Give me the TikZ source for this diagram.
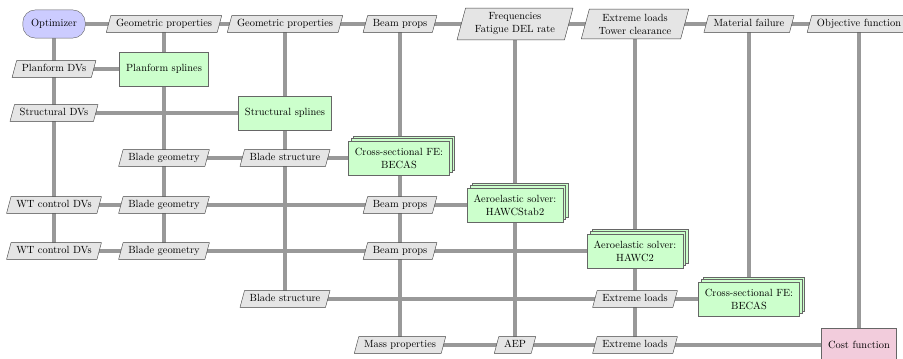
\documentclass[tikz,border=0pt]{standalone}
\usetikzlibrary{shapes.geometric,shadows,backgrounds}
\definecolor{costpink}{RGB}{242,204,220}
\definecolor{optblue}{RGB}{204,204,255}
\definecolor{funcgreen}{RGB}{204,255,204}
\begin{document}
\begin{tikzpicture}[x=0.96pt,y=-0.96pt,
  every node/.style={font=\fontsize{10}{12.5}\selectfont, text=black},
  datbase/.style={trapezium, trapezium left angle=75, trapezium right angle=105,
    draw=black!75, line width=0.4pt, fill=black!10, inner xsep=5pt, align=center},
  dat/.style={datbase, inner ysep=3.6pt, text height=7pt, text depth=2pt},
  dattwo/.style={datbase, inner ysep=4.5pt, inner xsep=9pt},
  func/.style={rectangle, draw=black!60, line width=0.4pt, fill=funcgreen,
    inner xsep=6.2pt, minimum height=33pt, align=center},
  stacked/.style={double copy shadow={shadow xshift=2.4pt, shadow yshift=2.4pt}},
  optim/.style={rectangle, rounded corners=12pt, draw=black!60, line width=0.4pt,
    fill=optblue, inner xsep=8pt, minimum height=27pt},
  costnode/.style={rectangle, draw=black!60, line width=0.4pt, fill=costpink,
    inner xsep=6.2pt, minimum height=33pt},
  conn/.style={draw=black!40, line width=4.6pt}
]
\useasboundingbox (0,0) rectangle (903,358);
% diagonal
\node[optim] (opt) at (54,24) {Optimizer};
\node[func] (plan) at (164,69) {Planform splines};
\node[func] (struct) at (285,113) {Structural splines};
\node[func,stacked] (becasA) at (399,158) {Cross-sectional FE:\\BECAS};
\node[func,stacked] (hs2) at (515,205) {Aeroelastic solver:\\HAWCStab2};
\node[func,stacked] (hawc2) at (635,251) {Aeroelastic solver:\\HAWC2};
\node[func,stacked] (becasB) at (749,299) {Cross-sectional FE:\\BECAS};
\node[costnode] (cost) at (859,345) {Cost function};
% row 0
\node[dat] (d01) at (164,24) {Geometric properties};
\node[dat] (d02) at (285,24) {Geometric properties};
\node[dat] (d03) at (400,24) {Beam props};
\node[dattwo] (d04) at (515,24) {Frequencies\\Fatigue DEL rate};
\node[dattwo] (d05) at (635,24) {Extreme loads\\Tower clearance};
\node[dat] (d06) at (749,24) {Material failure};
\node[dat] (d07) at (859,24) {Objective function};
% column 0 inputs
\node[dat] (d10) at (54,69) {Planform DVs};
\node[dat] (d20) at (54,113) {Structural DVs};
% row 3
\node[dat] (d31) at (164,158) {Blade geometry};
\node[dat] (d32) at (285,158) {Blade structure};
% row 4
\node[dat] (d40) at (54,205) {WT control DVs};
\node[dat] (d41) at (164,205) {Blade geometry};
\node[dat] (d43) at (400,205) {Beam props};
% row 5
\node[dat] (d50) at (54,251) {WT control DVs};
\node[dat] (d51) at (164,251) {Blade geometry};
\node[dat] (d53) at (400,251) {Beam props};
% row 6
\node[dat] (d62) at (285,299) {Blade structure};
\node[dat] (d65) at (635,299) {Extreme loads};
% row 7
\node[dat] (d73) at (400,345) {Mass properties};
\node[dat] (d74) at (515,345) {AEP};
\node[dat] (d75) at (635,345) {Extreme loads};
\begin{pgfonlayer}{background}
% rows
\draw[conn] (opt.center) -- (d07.center);
\draw[conn] (d10.center) -- (plan.center);
\draw[conn] (d20.center) -- (struct.center);
\draw[conn] (d31.center) -- (becasA.center);
\draw[conn] (d40.center) -- (hs2.center);
\draw[conn] (d50.center) -- (hawc2.center);
\draw[conn] (d62.center) -- (becasB.center);
\draw[conn] (d73.center) -- (cost.center);
% columns
\draw[conn] (opt.center) -- (d50.center);
\draw[conn] (d01.center) -- (d51.center);
\draw[conn] (d02.center) -- (d62.center);
\draw[conn] (d03.center) -- (d73.center);
\draw[conn] (d04.center) -- (d74.center);
\draw[conn] (d05.center) -- (d75.center);
\draw[conn] (d06.center) -- (becasB.center);
\draw[conn] (d07.center) -- (cost.center);
\end{pgfonlayer}
\end{tikzpicture}
\end{document}
